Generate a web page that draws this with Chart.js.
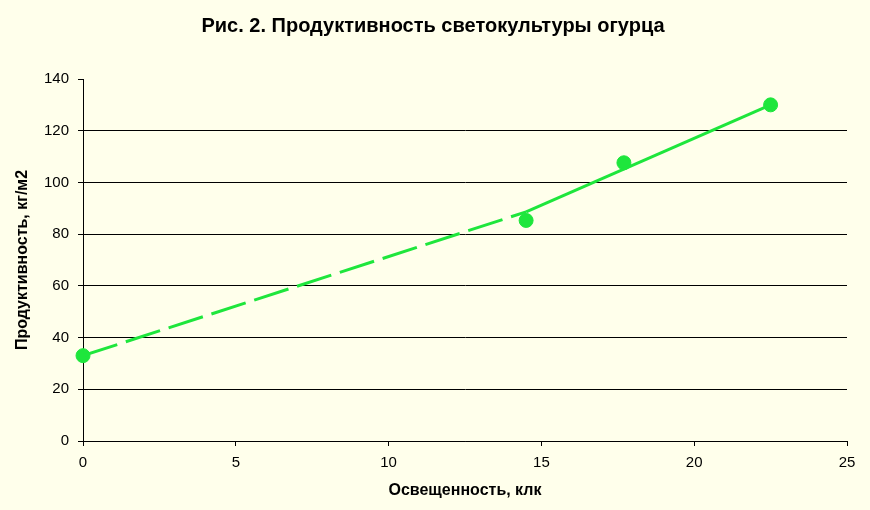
<!DOCTYPE html>
<html>
<head>
<meta charset="utf-8">
<script src="https://cdn.jsdelivr.net/npm/chart.js@4"></script>
<style>
  html, body { margin: 0; padding: 0; background: #FFFFEB; }
  #wrap { width: 870px; height: 510px; }
</style>
</head>
<body>
<div id="wrap"><canvas id="lightChart" width="870" height="510"></canvas></div>
<script>
// measured points: illuminance (klx) vs productivity (kg/m2)
const lightKlx = [0, 14.5, 17.7, 22.5];
const yieldKg = [33, 85.3, 107.6, 130];

// trend line drawn through the points (first part dashed)
const trendX = [0, 14.5, 22.5];
const trendY = [33, 88.6, 130];

const green = "#1EE63C";
const fontFam = "Arial, 'Liberation Sans'";

document.addEventListener("DOMContentLoaded", () => {
  const ctx = document.getElementById("lightChart");

  new Chart(ctx, {
    type: "scatter",
    data: {
      datasets: [
        {
          label: "trend",
          data: trendX.map((x, i) => ({ x, y: trendY[i] })),
          showLine: true,
          borderColor: green,
          borderWidth: 3,
          pointRadius: 0,
          pointHoverRadius: 0,
          segment: {
            borderDash: (c) => (c.p0DataIndex === 0 ? [36, 9] : undefined),
          },
        },
        {
          label: "points",
          data: lightKlx.map((x, i) => ({ x, y: yieldKg[i] })),
          showLine: false,
          backgroundColor: green,
          borderColor: green,
          pointRadius: 7,
          pointHoverRadius: 7,
          clip: false,
        },
      ],
    },
    options: {
      responsive: false,
      animation: false,
      layout: { padding: { left: 0, right: 4, top: 0, bottom: 0 } },
      scales: {
        x: {
          type: "linear",
          min: 0,
          max: 25,
          afterFit: (s) => { s.height = 69; },
          ticks: { stepSize: 5, color: "#000", padding: 8, font: { family: fontFam, size: 15 } },
          grid: { drawOnChartArea: false, tickColor: "#000", tickLength: 5 },
          border: { color: "#000", width: 1 },
          title: {
            display: true,
            text: "Освещенность, клк",
            color: "#000",
            padding: { top: 0, bottom: 9.4 },
            font: { family: fontFam, size: 16, weight: "bold" },
          },
        },
        y: {
          min: 0,
          max: 140,
          afterFit: (s) => { s.width = 83; },
          ticks: { stepSize: 20, color: "#000", padding: 9, font: { family: fontFam, size: 15 } },
          grid: {
            color: (c) => (c.tick && c.tick.value === 140 ? "rgba(0,0,0,0)" : "#000"),
            tickColor: "#000",
            tickLength: 5,
          },
          border: { color: "#000", width: 1 },
          title: {
            display: true,
            text: "Продуктивность, кг/м2",
            color: "#000",
            padding: { top: 13.4, bottom: 0 },
            font: { family: fontFam, size: 16, weight: "bold" },
          },
        },
        // empty right-hand spacer so the title centres on the whole picture
        spacer: {
          type: "linear",
          position: "right",
          min: 0,
          max: 140,
          afterFit: (s) => { s.width = 19; },
          ticks: { display: false },
          grid: { display: false },
          border: { display: false },
        },
      },
      plugins: {
        legend: { display: false },
        tooltip: { enabled: false },
        title: {
          display: true,
          text: "Рис. 2. Продуктивность светокультуры огурца",
          color: "#000",
          padding: { top: 14, bottom: 41 },
          font: { family: fontFam, size: 20, weight: "bold" },
        },
      },
    },
  });
});
</script>
</body>
</html>
